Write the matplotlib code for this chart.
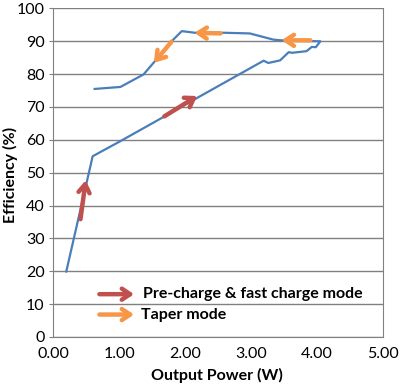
import matplotlib.pyplot as plt

# efficiency curve (W, %)
power = [0.20, 0.60, 1.02, 1.65, 2.23, 3.19, 3.26, 3.44, 3.57, 3.62, 3.84, 3.92, 3.98, 4.05,
         3.46, 3.34, 2.98, 2.60, 2.15, 1.95, 1.82, 1.52, 1.37, 1.02, 0.63]
eff = [19.9, 55.0, 59.6, 66.7, 73.3, 84.1, 83.4, 84.2, 86.7, 86.5, 87.0, 88.3, 88.2, 90.0,
       90.3, 90.5, 92.4, 92.6, 92.6, 93.1, 90.5, 83.4, 79.9, 76.1, 75.5]

# arrows along the curve: (x_start, y_start, x_end, y_end)
red_arrows = [(0.41, 35.0, 0.50, 48.5), (1.65, 66.7, 2.22, 73.8)]
orange_arrows = [(1.82, 90.5, 1.50, 82.8), (2.58, 92.4, 2.10, 92.6), (3.94, 90.3, 3.42, 90.3)]

legend_labels = ['Pre-charge & fast charge mode', 'Taper mode']

plt.rcParams['font.family'] = ['Lato', 'DejaVu Sans']

fig = plt.figure(figsize=(4.02, 3.85), dpi=100)
ax = fig.add_axes([0.132, 0.125, 0.821, 0.853])

ax.plot(power, eff, color='#4a7ebb', lw=1.6, zorder=3)

red = '#c0504d'
orange = '#f79646'
style = '->,head_length=0.6,head_width=0.4'
for x0, y0, x1, y1 in red_arrows:
    ax.annotate('', xy=(x1, y1), xytext=(x0, y0),
                arrowprops=dict(arrowstyle=style, color=red, lw=3.2), zorder=4)
for x0, y0, x1, y1 in orange_arrows:
    ax.annotate('', xy=(x1, y1), xytext=(x0, y0),
                arrowprops=dict(arrowstyle=style, color=orange, lw=3.2), zorder=4)

# legend made of arrows + text
ax.annotate('', xy=(1.27, 13), xytext=(0.66, 13),
            arrowprops=dict(arrowstyle=style, color=red, lw=3.2))
ax.annotate('', xy=(1.27, 6.8), xytext=(0.66, 6.8),
            arrowprops=dict(arrowstyle=style, color=orange, lw=3.2))
ax.text(1.36, 13, legend_labels[0], fontsize=11.5, fontweight='bold', va='center')
ax.text(1.33, 6.6, legend_labels[1], fontsize=11.5, fontweight='bold', va='center')

ax.set_xlim(0, 5)
ax.set_ylim(0, 100)
ax.set_xticks([0, 1, 2, 3, 4, 5])
ax.set_xticklabels(['0.00', '1.00', '2.00', '3.00', '4.00', '5.00'])
ax.set_yticks(range(0, 101, 10))
ax.tick_params(labelsize=11.5, length=0, pad=7)
ax.tick_params(axis='y', length=3, color='#808080', pad=3)
ax.yaxis.grid(True, color='#808080', lw=1)
ax.set_axisbelow(True)
for s in ['left', 'bottom', 'right', 'top']:
    ax.spines[s].set_color('#808080')
ax.spines['top'].set_visible(False)

# axis titles placed where the reference has them
fig.text(0.54, 0.025, 'Output Power (W)', fontsize=11.5, fontweight='bold',
         ha='center', va='center')
fig.text(0.027, 0.545, 'Efficiency (%)', fontsize=11.5, fontweight='bold',
         ha='center', va='center', rotation=90)

fig.savefig('out.png', dpi=100)
